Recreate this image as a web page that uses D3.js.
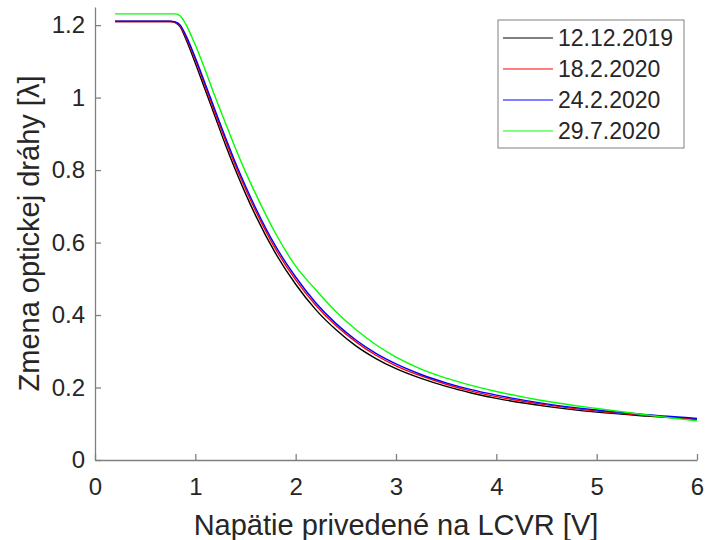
<!DOCTYPE html>
<html>
  <head>
    <title>LCVR</title>
    <script src="https://cdn.jsdelivr.net/npm/d3@7"></script>
    <style>
      body { margin: 0; background: #fff; }
      text { font-family: "Liberation Sans", Arial, sans-serif; fill: #262626; }
    </style>
  </head>
  <body>
    <div id="chart"></div>
    <script>
      var voltage = [0.2, 0.5, 0.75, 0.8, 0.85, 0.9, 1.0, 1.1, 1.2, 1.3, 1.4, 1.5, 1.6, 1.8, 2.0, 2.2, 2.4, 2.6, 2.8, 3.0, 3.25, 3.5, 3.75, 4.0, 4.5, 5.0, 5.5, 6.0]
      var s20191212 = [1.21, 1.21, 1.21, 1.207, 1.195, 1.165, 1.095, 1.02, 0.945, 0.87, 0.80, 0.735, 0.675, 0.57, 0.485, 0.415, 0.36, 0.315, 0.28, 0.252, 0.225, 0.203, 0.185, 0.17, 0.148, 0.132, 0.121, 0.112]
      var s20200218 = [1.21, 1.21, 1.21, 1.208, 1.197, 1.17, 1.105, 1.03, 0.955, 0.882, 0.812, 0.748, 0.688, 0.582, 0.497, 0.427, 0.371, 0.326, 0.289, 0.26, 0.232, 0.209, 0.19, 0.175, 0.152, 0.135, 0.123, 0.113]
      var s20200224 = [1.211, 1.211, 1.211, 1.209, 1.2, 1.175, 1.11, 1.037, 0.963, 0.89, 0.82, 0.756, 0.696, 0.59, 0.505, 0.434, 0.377, 0.331, 0.294, 0.265, 0.236, 0.213, 0.194, 0.179, 0.155, 0.138, 0.125, 0.115]
      var s20200729 = [1.231, 1.231, 1.231, 1.231, 1.225, 1.205, 1.145, 1.075, 1.0, 0.93, 0.86, 0.795, 0.735, 0.625, 0.535, 0.47, 0.41, 0.36, 0.318, 0.284, 0.251, 0.226, 0.206, 0.189, 0.162, 0.142, 0.124, 0.108]
      var seriesNames = ["12.12.2019", "18.2.2020", "24.2.2020", "29.7.2020"]
      var seriesColors = ["#000000", "#ff0000", "#0000ff", "#00ff00"]
      var xTicks = [0, 1, 2, 3, 4, 5, 6]
      var yTicks = [0, 0.2, 0.4, 0.6, 0.8, 1, 1.2]

      var allSeries = [s20191212, s20200218, s20200224, s20200729]

      var width = 706, height = 540
      var mLeft = 95, mRight = 697, mTop = 7, mBottom = 460

      var svg = d3.select("#chart").append("svg").attr("width", width).attr("height", height)

      var x = d3.scaleLinear().domain([0, 6]).range([mLeft, mRight])
      var y = d3.scaleLinear().domain([0, 1.25]).range([mBottom, mTop])

      var fmt = d => String(+d.toFixed(1))

      var xAxis = svg.append("g").attr("transform", "translate(0," + mBottom + ")")
        .call(d3.axisBottom(x).tickValues(xTicks).tickFormat(fmt).tickSizeInner(-6).tickSizeOuter(0).tickPadding(18))
      var yAxis = svg.append("g").attr("transform", "translate(" + mLeft + ",0)")
        .call(d3.axisLeft(y).tickValues(yTicks).tickFormat(fmt).tickSizeInner(-6).tickSizeOuter(0).tickPadding(10))

      ;[xAxis, yAxis].forEach(g => {
        g.selectAll("path.domain").attr("stroke", "#808080").attr("stroke-width", 1.3)
        g.selectAll(".tick line").attr("stroke", "#808080").attr("stroke-width", 1.3)
        g.selectAll(".tick text").attr("font-size", 24).attr("fill", "#262626")
          .style("font-family", "'Liberation Sans', Arial, sans-serif")
      })

      var line = d3.line().x((d, i) => x(voltage[i])).y(d => y(d)).curve(d3.curveMonotoneX)

      svg.append("g").selectAll("path").data(allSeries).enter().append("path")
        .attr("d", line)
        .attr("fill", "none")
        .attr("stroke", (d, i) => seriesColors[i])
        .attr("stroke-width", 1.4)

      // axis labels
      svg.append("text").attr("x", (mLeft + mRight) / 2).attr("y", 535)
        .attr("text-anchor", "middle").attr("font-size", 29)
        .text("Napätie privedené na LCVR [V]")
      svg.append("text").attr("transform", "translate(39," + (mTop + mBottom) / 2 + ") rotate(-90)")
        .attr("text-anchor", "middle").attr("font-size", 29)
        .text("Zmena optickej dráhy [λ]")

      // legend
      var lg = svg.append("g")
      lg.append("rect").attr("x", 498).attr("y", 20).attr("width", 186).attr("height", 128)
        .attr("fill", "#fff").attr("stroke", "#808080").attr("stroke-width", 1)
      var items = lg.selectAll("g.item").data(seriesNames).enter().append("g")
        .attr("transform", (d, i) => "translate(0," + (38 + i * 31) + ")")
      items.append("line").attr("x1", 503).attr("x2", 553)
        .attr("stroke", (d, i) => seriesColors[i]).attr("stroke-width", 1)
      items.append("text").attr("x", 558).attr("dy", "0.35em").attr("font-size", 23).text(d => d)
    </script>
  </body>
</html>
